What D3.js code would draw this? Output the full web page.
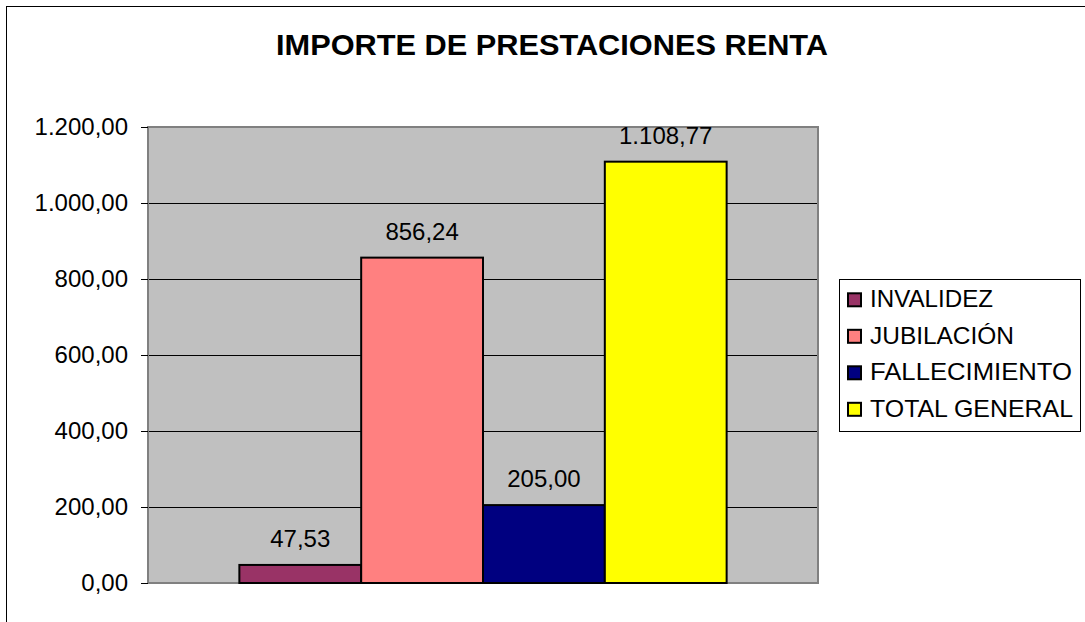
<!DOCTYPE html>
<html>
<head>
	<meta charset="utf-8">
	<title>Importe de prestaciones renta</title>
	<style>
		body { margin: 0; background: #fff; }
		text { font-family: "Liberation Sans", Arial, sans-serif; }
	</style>
</head>
<body>
	<svg width="1085" height="622"></svg>
<script src="https://cdn.jsdelivr.net/npm/d3@7"></script>
<script>
	//datos
	const categories = ["INVALIDEZ", "JUBILACIÓN", "FALLECIMIENTO", "TOTAL GENERAL"]
	const values = [47.53, 856.24, 205.00, 1108.77]
	const colors = ["#993366", "#FF8080", "#000080", "#FFFF00"]
	const yTicks = [0, 200, 400, 600, 800, 1000, 1200]

	//formato español: 1.200,00
	const es = d3.formatLocale({ decimal: ",", thousands: ".", grouping: [3], currency: ["", " €"] })
	const fmt = es.format(",.2f")

	const svg = d3.select("svg")

	//marco exterior
	svg.append("rect")
		.attr("x", 6.5).attr("y", 6.5)
		.attr("width", 1200).attr("height", 800)
		.attr("fill", "none").attr("stroke", "#000").attr("stroke-width", 1)

	//título
	svg.append("text")
		.attr("x", 552).attr("y", 54.5)
		.attr("text-anchor", "middle")
		.attr("font-size", 29.5).attr("font-weight", "bold")
		.attr("textLength", 552).attr("lengthAdjust", "spacingAndGlyphs")
		.text("IMPORTE DE PRESTACIONES RENTA")

	//área de trazado
	const plot = { left: 148, top: 127, right: 818, bottom: 583 }
	const y = d3.scaleLinear().domain([0, 1200]).range([plot.bottom, plot.top])
	const x = d3.scaleBand().domain(categories)
		.range([plot.left, plot.right])
		.paddingInner(0).paddingOuter(0.75)

	svg.append("rect")
		.attr("x", plot.left).attr("y", plot.top)
		.attr("width", plot.right - plot.left).attr("height", plot.bottom - plot.top)
		.attr("fill", "#C0C0C0")

	//líneas de división
	svg.append("g")
		.selectAll("line").data(yTicks.filter(d => d > 0 && d < 1200)).enter().append("line")
			.attr("x1", plot.left).attr("x2", plot.right)
			.attr("y1", d => Math.round(y(d)) + 0.5).attr("y2", d => Math.round(y(d)) + 0.5)
			.attr("stroke", "#000").attr("stroke-width", 1)

	svg.append("rect")
		.attr("x", plot.left).attr("y", plot.top)
		.attr("width", plot.right - plot.left).attr("height", plot.bottom - plot.top)
		.attr("fill", "none").attr("stroke", "#808080").attr("stroke-width", 2)

	//eje vertical
	const axis = svg.append("g")
		.attr("transform", `translate(${plot.left},0)`)
		.call(d3.axisLeft(y).tickValues(yTicks).tickFormat(fmt).tickSize(7).tickPadding(13))
	axis.select(".domain").remove()
	axis.selectAll("line").attr("stroke", "#000")
	axis.selectAll("text").attr("font-size", 24).attr("fill", "#000")
		.attr("font-family", "Liberation Sans, Arial, sans-serif")

	//barras
	svg.append("g")
		.selectAll("rect").data(categories).enter().append("rect")
			.attr("x", d => x(d))
			.attr("y", (d, i) => y(values[i]))
			.attr("width", x.bandwidth())
			.attr("height", (d, i) => y(0) - y(values[i]))
			.attr("fill", (d, i) => colors[i])
			.attr("stroke", "#000").attr("stroke-width", 2)

	//etiquetas de datos
	svg.append("g")
		.selectAll("text").data(categories).enter().append("text")
			.attr("x", d => x(d) + x.bandwidth() / 2)
			.attr("y", (d, i) => y(values[i]) - 18)
			.attr("text-anchor", "middle")
			.attr("font-size", 24)
			.text((d, i) => fmt(values[i]))

	//leyenda
	const lg = svg.append("g")
	lg.append("rect")
		.attr("x", 839.5).attr("y", 279.5)
		.attr("width", 241).attr("height", 152)
		.attr("fill", "#fff").attr("stroke", "#000").attr("stroke-width", 1)
	const item = lg.selectAll("g").data(categories).enter().append("g")
		.attr("transform", (d, i) => `translate(848,${307.3 + i * 36.5})`)
	item.append("rect")
		.attr("x", 0).attr("y", -14)
		.attr("width", 13).attr("height", 13)
		.attr("fill", (d, i) => colors[i])
		.attr("stroke", "#000").attr("stroke-width", 2)
	item.append("text")
		.attr("x", 22).attr("y", 0)
		.attr("font-size", 24)
		.attr("textLength", (d, i) => [123, 144, 202, 203][i])
		.attr("lengthAdjust", "spacingAndGlyphs")
		.text(d => d)
</script>
</body>
</html>
